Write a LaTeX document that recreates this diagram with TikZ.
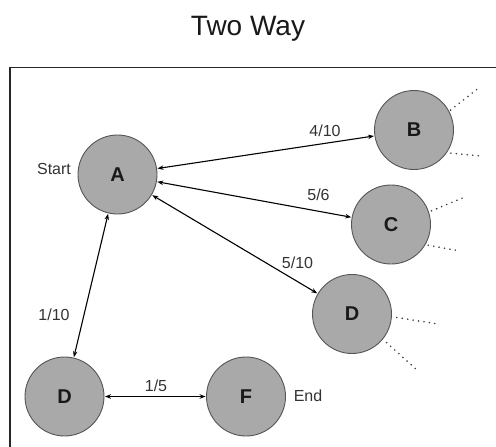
\documentclass[tikz,border=0pt]{standalone}
\usepackage{fontspec}
\setmainfont{Liberation Sans}
\usetikzlibrary{arrows.meta}
\definecolor{nodefill}{HTML}{A8A9A8}
\definecolor{nodeedge}{HTML}{555555}
\definecolor{labelcol}{HTML}{333333}
\tikzset{
  state/.style={circle, minimum size=79pt, inner sep=0pt, fill=nodefill, draw=nodeedge, line width=0.9pt, font=\fontsize{20}{22}\selectfont\bfseries, text=black!90},
  link/.style={{Stealth[length=6pt,width=4.5pt]}-{Stealth[length=6pt,width=4.5pt]}, line width=1.1pt, shorten <=0.5pt, shorten >=0.5pt},
  lbl/.style={font=\fontsize{16}{18}\selectfont, text=labelcol, inner sep=0pt},
  dots/.style={line width=1.8pt, dash pattern=on 0pt off 5.5pt, line cap=round, draw=black!75}
}
\begin{document}
\begin{tikzpicture}[x=1pt,y=-1pt]
\useasboundingbox (0,0) rectangle (496,447);
\clip (0,0) rectangle (496,447);
\node[font=\fontsize{28}{30}\selectfont, text=black!90] (title) at (248,29) {Two Way};
\draw[line width=1.3pt, black!85] (10,67.5) rectangle (520,470);
\node[state] (A) at (117.5,174.5) {A};
\node[state] (B) at (414,130) {B};
\node[state] (C) at (391,224.5) {C};
\node[state] (D) at (352,314) {D};
\node[state] (D2) at (64.5,396.5) {D};
\node[state] (F) at (246,396.5) {F};
\node[lbl] (start) at (54,168.5) {Start};
\node[lbl] (end) at (308,396) {End};
\node[lbl] (l1) at (325,130.5) {4/10};
\node[lbl] (l2) at (318.5,195) {5/6};
\node[lbl] (l3) at (297.5,263) {5/10};
\node[lbl] (l4) at (54,315) {1/10};
\node[lbl] (l5) at (156,386) {1/5};
\draw[link] (A) -- (B);
\draw[link] (A) -- (C);
\draw[link] (A) -- (D);
\draw[link] (A) -- (D2);
\draw[link] (D2) -- (F);
\coordinate (b1) at (480,87);
\coordinate (b2) at (481,156);
\coordinate (c1) at (465,197);
\coordinate (c2) at (460,251);
\coordinate (d1) at (438,324);
\coordinate (d2) at (417,370);
\draw[dots] (B.30) ++(2,0) -- (b1);
\draw[dots] (B.-32) ++(3,2) -- (b2);
\draw[dots] (C.20) ++(3,0) -- (c1);
\draw[dots] (C.-28) ++(2,2) -- (c2);
\draw[dots] (D.-5) ++(5,0) -- (d1);
\draw[dots] (D.-40) ++(4,3) -- (d2);
\end{tikzpicture}
\end{document}
